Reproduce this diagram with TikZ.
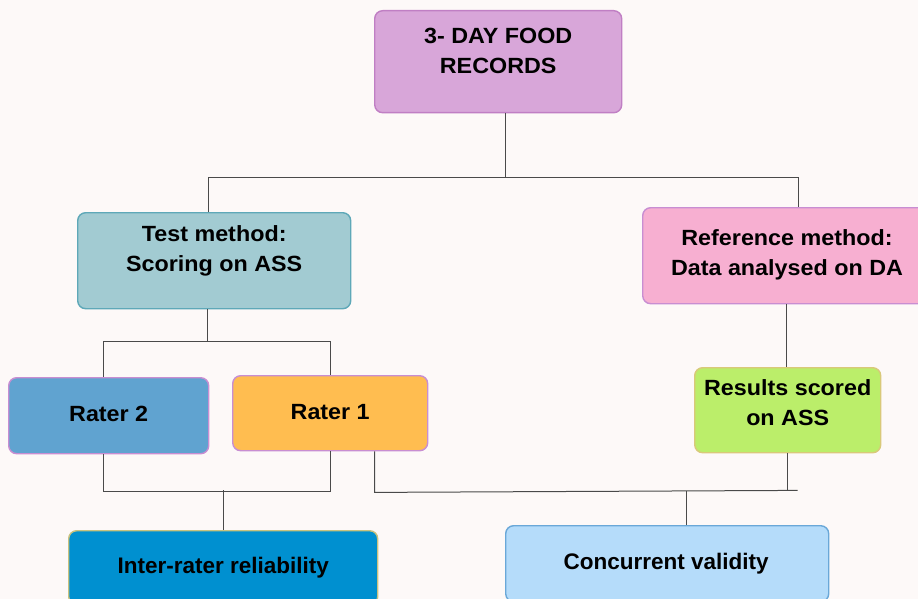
\documentclass[tikz,border=0pt]{standalone}
\usepackage{fontspec}
\setmainfont{Liberation Sans}
\newfontfamily\widefont[FakeStretch=1.06]{Liberation Sans}
\definecolor{bg}{HTML}{FDF9F8}
\definecolor{conn}{HTML}{4A4A4A}
\definecolor{topF}{HTML}{D8A6D9}\definecolor{topD}{HTML}{C07FC4}
\definecolor{testF}{HTML}{A2CBD2}\definecolor{testD}{HTML}{5EA8B8}
\definecolor{refF}{HTML}{F7AFD1}\definecolor{refD}{HTML}{C88ED2}
\definecolor{rtwoF}{HTML}{60A3D0}\definecolor{rtwoD}{HTML}{C88ED2}
\definecolor{roneF}{HTML}{FFBD50}\definecolor{roneD}{HTML}{C88ED2}
\definecolor{resF}{HTML}{BBEE6A}\definecolor{resD}{HTML}{D9C97A}
\definecolor{irrF}{HTML}{0090D0}\definecolor{irrD}{HTML}{C9C27E}
\definecolor{cvF}{HTML}{B5DCFA}\definecolor{cvD}{HTML}{6AA8D8}
\begin{document}
\begin{tikzpicture}[x=1pt,y=-1pt,
  box/.style={draw, line width=1.4pt, rounded corners=8pt, anchor=north west, inner sep=0pt},
  txt/.style={font=\widefont\bfseries\fontsize{22}{30}\selectfont, align=center, text=black, inner sep=0pt},
  ctxt/.style={font=\bfseries\fontsize{22.5}{30}\selectfont, align=center, text=black, inner sep=0pt},
  conn/.style={draw=conn, line width=1pt}]
\fill[bg] (0,0) rectangle (918,599);
\useasboundingbox (0,0) rectangle (918,599);
\clip (0,0) rectangle (918,599);
% boxes
\node[box, fill=topF, draw=topD, minimum width=247pt, minimum height=102pt] (top) at (374,10) {};
\node[txt] (topt) at ([yshift=11pt]top.center) {3- DAY FOOD\\RECORDS};
\node[box, fill=testF, draw=testD, minimum width=273pt, minimum height=96pt] (test) at (77,212) {};
\node[txt] (testt) at ([yshift=9.5pt]test.center) {Test method:\\Scoring on ASS};
\node[box, fill=refF, draw=refD, minimum width=290pt, minimum height=96pt] (ref) at (642,207) {};
\node[txt] (reft) at (787,255) {Reference method:\\Data analysed on DA};
\node[box, fill=rtwoF, draw=rtwoD, minimum width=200pt, minimum height=76pt] (r2) at (8,377) {};
\node[txt] (r2t) at ([yshift=2pt]r2.center) {Rater 2};
\node[box, fill=roneF, draw=roneD, minimum width=195pt, minimum height=75pt] (r1) at (232,375) {};
\node[txt] (r1t) at ([yshift=1.5pt]r1.center) {Rater 1};
\node[box, fill=resF, draw=resD, minimum width=186pt, minimum height=85pt] (res) at (694,367) {};
\node[txt] (rest) at ([yshift=7.5pt]res.center) {Results scored\\on ASS};
\node[box, fill=irrF, draw=irrD, minimum width=309pt, minimum height=74pt] (irr) at (68,530) {};
\node[ctxt] (irrt) at (irr.center) {Inter-rater reliability};
\node[box, fill=cvF, draw=cvD, minimum width=323pt, minimum height=76pt] (cv) at (505,525) {};
\node[ctxt] (cvt) at ([xshift=-1pt]cv.center) {Concurrent validity};
% connectors
\coordinate (ytop) at (0,177);
\draw[conn] ([xshift=7.5pt]top.south) -- ([xshift=7.5pt]top.south |- ytop);
\draw[conn] ([xshift=-5.5pt]test.north) -- ([xshift=-5.5pt]test.north |- ytop) -| ([xshift=11pt]ref.north);
\draw[conn] ([xshift=-6.5pt]test.south) -- ++(0,32) coordinate (j2);
\draw[conn] ([xshift=-5.5pt]r2.north) |- (j2) -| (r1.north);
\draw[conn] ([xshift=-5pt]r2.south) -- ++(0,37) -| (r1.south);
\draw[conn] (irr.north) -- ++(0,-40);
\draw[conn] ([xshift=44.5pt]r1.south) -- ++(0,41) -- ++(423,-2);
\draw[conn] (res.south) -- ++(0,37);
\draw[conn] ([xshift=19.5pt]cv.north) -- ++(0,-34);
\draw[conn] ([xshift=-1pt]res.north |- ref.south) -- ([xshift=-1pt]res.north);
\end{tikzpicture}
\end{document}
